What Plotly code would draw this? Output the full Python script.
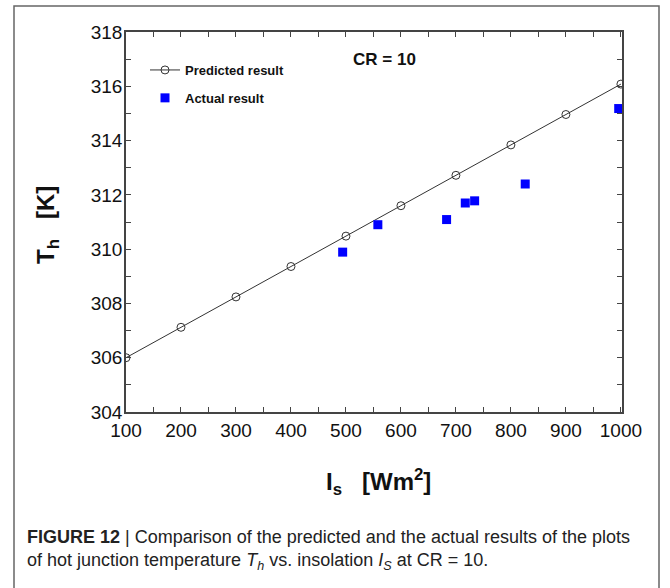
import plotly.graph_objects as go

# Data
pred_x = [100, 200, 300, 400, 500, 600, 700, 800, 900, 1000]
pred_y = [306.0, 307.12, 308.24, 309.36, 310.48, 311.6, 312.72, 313.84, 314.96, 316.08]
act_x = [494, 558, 683, 717, 734, 826, 996]
act_y = [309.89, 310.9, 311.09, 311.7, 311.78, 312.4, 315.18]

x_tickvals = list(range(100, 1001, 50))
x_ticktext = [str(v) if v % 100 == 0 else "" for v in x_tickvals]
y_tickvals = list(range(304, 319))
y_ticktext = [str(v) if v % 2 == 0 else "" for v in y_tickvals]

W, H = 670, 588
L, R, T, B = 126, 48, 32, 176
PW, PH = W - L - R, H - T - B


def px(x):
    return (x - L) / PW


def py(y):
    return (H - B - y) / PH


fig = go.Figure()
fig.add_trace(go.Scatter(
    x=pred_x, y=pred_y, mode="lines+markers", name="<b>Predicted result</b>",
    line=dict(color="#333333", width=1),
    marker=dict(symbol="circle-open", size=8, color="#333333", line=dict(width=1)),
    legendgroup="a",
))
fig.add_trace(go.Scatter(
    x=act_x, y=act_y, mode="markers", name="<b>Actual result</b>",
    marker=dict(symbol="square", size=9, color="#0000FF"),
    legendgroup="b",
))

axis_common = dict(
    showgrid=False, zeroline=False, showline=True, linecolor="#444444", linewidth=1.5,
    mirror="allticks", ticks="inside", ticklen=5, tickcolor="#444444", tickwidth=1,
    tickfont=dict(family="Liberation Sans, Arial", size=19, color="#111111"),
)
fig.update_xaxes(range=[100, 1002], tickmode="array", tickvals=x_tickvals, ticktext=x_ticktext, **axis_common)
fig.update_yaxes(range=[304, 318], tickmode="array", tickvals=y_tickvals, ticktext=y_ticktext,
                 ticklabelstandoff=-2, **axis_common)

fig.update_layout(
    width=W, height=H,
    margin=dict(l=L, r=R, t=T, b=B),
    paper_bgcolor="white", plot_bgcolor="white",
    showlegend=True,
    legend=dict(x=px(145), y=py(55), xanchor="left", yanchor="top",
                bgcolor="rgba(0,0,0,0)", itemwidth=30, tracegroupgap=8,
                font=dict(family="Liberation Sans, Arial", size=13, color="#111111"),
                ),
    font=dict(family="Liberation Sans, Arial"),
)

annotations = [
    dict(text="<b>CR = 10</b>", x=px(351), y=py(59), xref="paper", yref="paper",
         xanchor="left", yanchor="middle", showarrow=False,
         font=dict(size=17, color="#111111")),
    dict(text="<b>T<sub>h</sub>&nbsp;&nbsp;&nbsp;[K]</b>", x=px(47), y=py(225), xref="paper", yref="paper",
         xanchor="center", yanchor="middle", textangle=-90, showarrow=False,
         font=dict(size=24, color="#111111")),
    dict(text="<b>I<sub>s</sub>&nbsp;&nbsp;&nbsp;[Wm<sup>2</sup>]</b>", x=px(378), y=py(482), xref="paper", yref="paper",
         xanchor="center", yanchor="middle", showarrow=False,
         font=dict(size=24, color="#111111")),
    dict(text="<b>FIGURE 12</b> | Comparison of the predicted and the actual results of the plots<br>"
              "of hot junction temperature <i>T<sub>h</sub></i> vs. insolation <i>I<sub>S</sub></i> at CR = 10.",
         x=px(25), y=py(525), xref="paper", yref="paper",
         xanchor="left", yanchor="top", align="left", showarrow=False,
         font=dict(family="Liberation Sans, Arial", size=18, color="#222222")),
]
fig.update_layout(annotations=annotations)

fig.add_shape(type="rect", xref="paper", yref="paper",
              x0=px(14), x1=px(659), y0=py(600), y1=py(6),
              line=dict(color="#666666", width=1.5), fillcolor="rgba(0,0,0,0)", layer="below")

fig.write_html("out.html")
